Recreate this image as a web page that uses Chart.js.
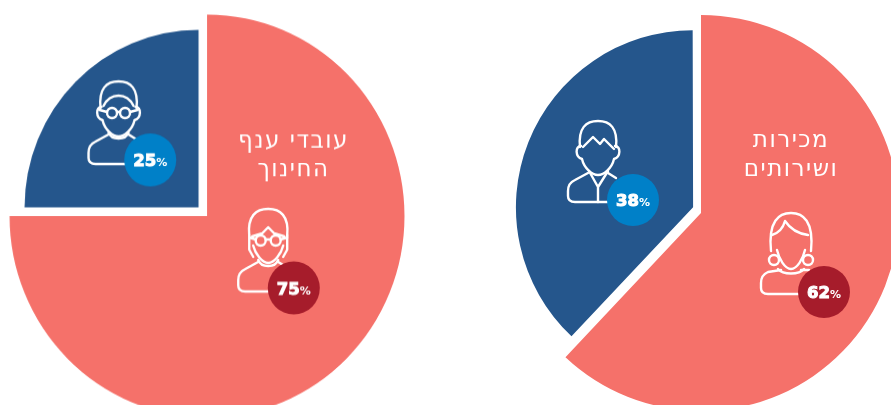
<!DOCTYPE html>
<html>
<head>
<meta charset="utf-8">
<style>
html, body { margin: 0; padding: 0; width: 891px; height: 405px; overflow: hidden; background: #fff; }
canvas { position: absolute; filter: blur(0.45px); }
#pie_education { left: -8.5px; top: 1px; transform: scaleY(1.02); }
#pie_sales { left: 486px; top: -2px; }
</style>
<script src="https://cdn.jsdelivr.net/npm/chart.js@4/dist/chart.umd.min.js"></script>
</head>
<body>
<canvas id="pie_education" width="430" height="430"></canvas>
<canvas id="pie_sales" width="430" height="430"></canvas>
<script>
var genders = ["נשים", "גברים"];
var educationValues = [75, 25];
var salesValues = [62, 38];
var educationLabel = ["עובדי ענף", "החינוך"];
var salesLabel = ["מכירות", "ושירותים"];

var CORAL = '#f5716a';
var NAVY = '#25568c';
var BADGE_RED = '#a61c2b';
var BADGE_BLUE = '#0080c8';

// head shapes shared by the icons, x/y relative to the top of the head
function strokePath(ctx, build) {
    ctx.beginPath();
    build(ctx);
    ctx.stroke();
}

function drawHead(ctx, w) {
    strokePath(ctx, function (c) {
        c.moveTo(-w + 1, 26);
        c.bezierCurveTo(-w - 1, 7, -12, 0, 0, 0);
        c.bezierCurveTo(12, 0, w + 1, 7, w - 1, 26);
    });
}

function drawEarsAndJaw(ctx) {
    strokePath(ctx, function (c) {
        c.moveTo(-17, 25);
        c.bezierCurveTo(-23, 25, -23, 36, -16, 38);
        c.bezierCurveTo(-14, 47, -6, 54, 0, 54);
        c.bezierCurveTo(6, 54, 14, 47, 16, 38);
        c.bezierCurveTo(23, 36, 23, 25, 17, 25);
    });
}

function drawBody(ctx, neckY) {
    strokePath(ctx, function (c) {
        c.moveTo(-10, neckY);
        c.lineTo(-23, 59);
        c.quadraticCurveTo(-30, 62, -30, 70);
        c.lineTo(-30, 75);
        c.quadraticCurveTo(-30, 81, -23, 81);
        c.lineTo(20, 81);
        c.moveTo(10, neckY);
        c.lineTo(18, 57);
    });
}

function drawCollar(ctx) {
    strokePath(ctx, function (c) {
        c.moveTo(-10, 50);
        c.bezierCurveTo(-7, 58, 7, 58, 10, 50);
    });
}

function drawGlasses(ctx, gap) {
    [-gap, gap].forEach(function (x) {
        strokePath(ctx, function (c) { c.arc(x, 31, 5, 0, Math.PI * 2); });
    });
    strokePath(ctx, function (c) {
        c.moveTo(-gap + 5, 30);
        c.lineTo(gap - 5, 30);
        c.moveTo(-gap - 5, 30);
        c.lineTo(-19, 28);
        c.moveTo(gap + 5, 30);
        c.lineTo(19, 28);
    });
}

var iconShapes = {
    glassesMan: function (ctx) {
        drawHead(ctx, 19);
        drawEarsAndJaw(ctx);
        drawCollar(ctx);
        drawBody(ctx, 52);
        drawGlasses(ctx, 6.5);
        strokePath(ctx, function (c) {
            c.moveTo(-15, 24);
            c.quadraticCurveTo(-10, 14, 0, 14);
            c.quadraticCurveTo(10, 14, 15, 24);
        });
    },
    glassesWoman: function (ctx) {
        drawHead(ctx, 20);
        drawCollar(ctx);
        drawBody(ctx, 52);
        drawGlasses(ctx, 7.5);
        strokePath(ctx, function (c) {
            c.moveTo(-16, 27);
            c.lineTo(-6, 24);
            c.lineTo(0, 18);
            c.lineTo(6, 24);
            c.lineTo(16, 27);
            c.moveTo(-19, 26);
            c.lineTo(-19, 40);
            c.lineTo(-15, 47);
            c.moveTo(19, 26);
            c.lineTo(19, 40);
            c.lineTo(15, 47);
            c.moveTo(-15, 36);
            c.bezierCurveTo(-13, 44, -6, 53, 0, 53);
            c.bezierCurveTo(6, 53, 13, 44, 15, 36);
        });
    },
    suitMan: function (ctx) {
        drawHead(ctx, 19);
        drawEarsAndJaw(ctx);
        drawBody(ctx, 52);
        strokePath(ctx, function (c) {
            c.moveTo(-15, 26);
            c.lineTo(-5, 16);
            c.lineTo(2, 23);
            c.lineTo(6, 18);
            c.lineTo(16, 28);
            c.moveTo(-9, 50);
            c.lineTo(0, 66);
            c.lineTo(10, 50);
            c.moveTo(0, 66);
            c.lineTo(0, 81);
        });
    },
    woman: function (ctx) {
        strokePath(ctx, function (c) {
            c.moveTo(-20, 38);
            c.bezierCurveTo(-23, 8, -12, 0, 0, 0);
            c.bezierCurveTo(12, 0, 23, 8, 20, 38);
            c.moveTo(-19, 22);
            c.quadraticCurveTo(-9, 19, -6, 8);
            c.quadraticCurveTo(2, 20, 17, 22);
            c.moveTo(-14, 37);
            c.bezierCurveTo(-12, 46, -6, 56, 0, 56);
            c.bezierCurveTo(6, 56, 12, 46, 14, 37);
            c.moveTo(-13, 56);
            c.bezierCurveTo(-8, 62, 8, 62, 13, 56);
        });
        [-17, 17].forEach(function (x) {
            strokePath(ctx, function (c) { c.arc(x, 47, 5, 0, Math.PI * 2); });
        });
        drawBody(ctx, 57);
    }
};

function drawBadge(ctx, badge, value) {
    ctx.beginPath();
    ctx.arc(badge.x, badge.y, 26, 0, Math.PI * 2);
    ctx.fillStyle = badge.color;
    ctx.fill();

    var num = String(value);
    ctx.fillStyle = '#fff';
    ctx.strokeStyle = '#fff';
    ctx.textAlign = 'left';
    ctx.textBaseline = 'alphabetic';
    ctx.font = 'bold 16.5px "DejaVu Sans"';
    var numWidth = ctx.measureText(num).width;
    ctx.font = 'bold 11px "DejaVu Sans"';
    var pctWidth = ctx.measureText('%').width;
    var left = badge.x - (numWidth + pctWidth) / 2;
    ctx.font = 'bold 16.5px "DejaVu Sans"';
    ctx.lineWidth = 1;
    ctx.strokeText(num, left, badge.y + 6);
    ctx.fillText(num, left, badge.y + 6);
    ctx.font = 'bold 11px "DejaVu Sans"';
    ctx.fillText('%', left + numWidth, badge.y + 6);
}

var pieDecor = {
    id: 'pieDecor',
    afterDatasetsUpdate: function (chart, args, opts) {
        // the navy wedge is a smaller, pulled out slice
        var wedge = chart.getDatasetMeta(0).data[1];
        wedge.outerRadius = opts.wedgeRadius;
        wedge.y -= opts.wedgeLift;
    },
    afterDraw: function (chart, args, opts) {
        var ctx = chart.ctx;
        var arc = chart.getDatasetMeta(0).data[0];
        var values = chart.data.datasets[0].data;
        ctx.save();
        ctx.translate(arc.x, arc.y);

        opts.icons.forEach(function (icon) {
            ctx.save();
            ctx.translate(icon.x, icon.y);
            ctx.strokeStyle = '#fff';
            ctx.lineWidth = 2.4;
            ctx.lineCap = 'round';
            ctx.lineJoin = 'round';
            iconShapes[icon.shape](ctx);
            ctx.restore();
        });

        opts.badges.forEach(function (badge, i) {
            drawBadge(ctx, badge, values[i]);
        });

        ctx.fillStyle = '#fff';
        ctx.textAlign = 'center';
        ctx.direction = 'rtl';
        ctx.letterSpacing = '1.5px';
        ctx.font = '23px "DejaVu Sans"';
        opts.label.forEach(function (line, i) {
            ctx.fillText(line, opts.labelX, opts.labelY[i]);
        });
        ctx.restore();
    }
};

function getPieConfig(values, radius, offset, decor) {
    return {
        type: 'pie',
        data: {
            labels: genders,
            datasets: [{
                data: values,
                backgroundColor: [CORAL, NAVY],
                borderWidth: 0,
                offset: [0, offset]
            }]
        },
        options: {
            responsive: false,
            animation: false,
            radius: radius,
            plugins: {
                legend: false,
                tooltip: false,
                pieDecor: decor
            }
        },
        plugins: [pieDecor]
    };
}

new Chart(document.getElementById("pie_education").getContext("2d"), getPieConfig(educationValues, 197.5, 48, {
    wedgeRadius: 174,
    wedgeLift: 0,
    label: educationLabel,
    labelX: 86.5,
    labelY: [-66.7, -39.2],
    icons: [{ shape: 'glassesWoman', x: 61.2, y: -7 }, { shape: 'glassesMan', x: -88.5, y: -132 }],
    badges: [{ x: 86.8, y: 70.6, color: BADGE_RED }, { x: -56.8, y: -55, color: BADGE_BLUE }]
}));

new Chart(document.getElementById("pie_sales").getContext("2d"), getPieConfig(salesValues, 198, 34, {
    wedgeRadius: 174.5,
    wedgeLift: 2.5,
    label: salesLabel,
    labelX: 90,
    labelY: [-66, -37],
    icons: [{ shape: 'woman', x: 90, y: 0 }, { shape: 'suitMan', x: -103, y: -92 }],
    badges: [{ x: 123, y: 79, color: BADGE_RED }, { x: -68, y: -13, color: BADGE_BLUE }]
}));
</script>
</body>
</html>
